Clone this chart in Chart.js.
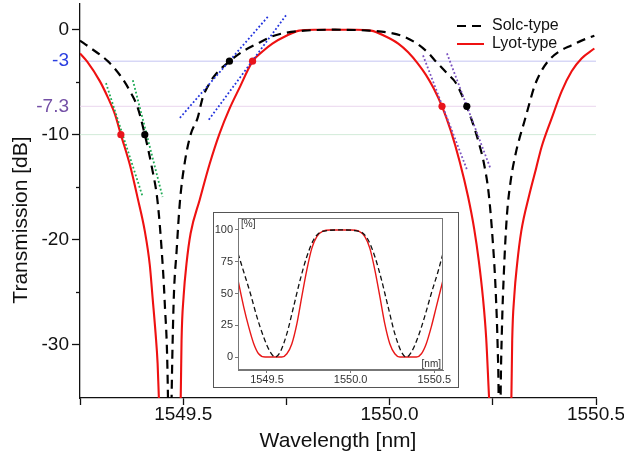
<!DOCTYPE html>
<html>
<head>
<meta charset="utf-8">
<script src="https://cdn.jsdelivr.net/npm/chart.js@4.4.0/dist/chart.umd.min.js"></script>
<style>
  body { margin: 0; background: #fff; }
  #wrap { position: relative; width: 624px; height: 455px; }
  #main { position: absolute; left: 0; top: 0; }
  #insetBox { position: absolute; left: 213px; top: 212px; width: 246px; height: 176px;
              box-sizing: border-box; border: 1px solid #555; background: #fff; }
</style>
</head>
<body>
<div id="wrap">
  <canvas id="main" width="624" height="455"></canvas>
  <div id="insetBox"><canvas id="inset" width="244" height="174"></canvas></div>
</div>
<script>
// --- main plot: transmission in dB ---
const solcX = [1549.250, 1549.274, 1549.318, 1549.347, 1549.371, 1549.390, 1549.407, 1549.424, 1549.438, 1549.448,
  1549.455, 1549.463, 1549.467, 1549.472, 1549.477, 1549.484, 1549.492, 1549.504, 1549.518, 1549.535,
  1549.547, 1549.564, 1549.581, 1549.612, 1549.644, 1549.680, 1549.714, 1549.750, 1549.793, 1549.868,
  1549.950, 1549.999, 1550.035, 1550.066, 1550.095, 1550.112, 1550.139, 1550.161, 1550.187, 1550.204,
  1550.216, 1550.228, 1550.240, 1550.250, 1550.257, 1550.262, 1550.264, 1550.266, 1550.269, 1550.272,
  1550.277, 1550.284, 1550.293, 1550.306, 1550.315, 1550.327, 1550.339, 1550.351, 1550.366, 1550.385,
  1550.410, 1550.440, 1550.465, 1550.496];
const solcY = [-1.04, -1.70, -3.02, -4.34, -5.85, -7.45, -10.0, -13.1, -16.4, -21.1,
  -25.8, -34.8, -50, -34.8, -25.8, -21.1, -16.4, -12.6, -10.0, -8.40,
  -6.51, -5.09, -4.15, -3.02, -2.08, -1.32, -0.66, -0.28, -0.09, 0,
  -0.09, -0.28, -0.66, -1.32, -2.26, -3.02, -4.15, -5.1, -7.36, -9.2,
  -10.75, -12.64, -15.6, -20.2, -24.9, -30.6, -34.8, -50, -34.8, -28.7,
  -23.0, -17.8, -14.5, -11.7, -10.3, -8.68, -6.98, -5.38, -4.05, -2.95,
  -2.1, -1.5, -1.04, -0.57];

const lyotX = [1549.250, 1549.267, 1549.298, 1549.318, 1549.335, 1549.349, 1549.371, 1549.390, 1549.407, 1549.419,
  1549.426, 1549.433, 1549.438, 1549.441, 1549.467, 1549.494, 1549.496, 1549.501, 1549.508, 1549.518,
  1549.540, 1549.564, 1549.588, 1549.612, 1549.636, 1549.668, 1549.692, 1549.716, 1549.750, 1549.781,
  1549.818, 1549.878, 1549.919, 1549.955, 1549.987, 1550.021, 1550.045, 1550.068, 1550.088, 1550.107,
  1550.127, 1550.148, 1550.170, 1550.190, 1550.205, 1550.216, 1550.226, 1550.234, 1550.241, 1550.268,
  1550.295, 1550.297, 1550.302, 1550.309, 1550.319, 1550.338, 1550.355, 1550.368, 1550.393, 1550.417,
  1550.441, 1550.465, 1550.496];
const lyotY = [-2.26, -3.02, -4.9, -6.5, -8.1, -10.0, -12.9, -16.1, -19.2, -22.4,
  -25.6, -28.9, -31.8, -35.0, -55, -35.1, -29.6, -25.4, -22.3, -19.4,
  -16.2, -12.8, -9.9, -7.55, -5.57, -3.02, -2.08, -1.32, -0.57, -0.09,
  0, 0, 0, -0.09, -0.57, -1.32, -2.15, -3.2, -4.3, -5.6,
  -7.3, -9.6, -12.6, -15.9, -19.0, -22.0, -25.5, -29.4, -35.1, -55,
  -35.1, -29.6, -25.4, -22.3, -19.2, -15.8, -13.2, -11.2, -8.4, -5.85,
  -3.96, -2.74, -1.79];

// reference levels and their colours
const levels = [-3, -7.3, -10];
const levelColors = ['#c4c4f2', '#ead6ee', '#d2ebd9'];

// tangent lines [x0, x1], [y0, y1]
const tanGreenLyotX = [1549.313, 1549.402], tanGreenLyotY = [-5.09, -15.94];
const tanGreenSolcX = [1549.378, 1549.450], tanGreenSolcY = [-4.81, -15.94];
const tanBlueSolcX = [1549.492, 1549.707], tanBlueSolcY = [-8.40, 1.32];
const tanBlueLyotX = [1549.562, 1549.750], tanBlueLyotY = [-8.58, 1.42];
const tanPurpleLyotX = [1550.081, 1550.187], tanPurpleLyotY = [-2.45, -13.3];
const tanPurpleSolcX = [1550.139, 1550.245], tanPurpleSolcY = [-2.26, -13.3];

// marked points
const dotSolcX = [1549.407, 1549.612, 1550.187], dotSolcY = [-10, -3, -7.3];
const dotLyotX = [1549.349, 1549.668, 1550.127], dotLyotY = [-10, -3, -7.3];

const yTickValues = [0, -3, -7.3, -10, -20, -30];
const yMinorTicks = [-5, -15, -25];
const xTickValues = [1549.25, 1549.5, 1549.75, 1550.0, 1550.25, 1550.5];

// --- inset: linear transmission in % ---
const inSolcX = [1549.327, 1549.361, 1549.401, 1549.440, 1549.480, 1549.520, 1549.550, 1549.579, 1549.619, 1549.659,
  1549.698, 1549.738, 1549.778, 1549.827, 1549.940, 1550.056, 1550.105, 1550.145, 1550.185, 1550.224,
  1550.264, 1550.304, 1550.333, 1550.363, 1550.403, 1550.442, 1550.482, 1550.522, 1550.552];
const inSolcY = [81.6, 67.1, 50.0, 31.6, 15.8, 3.9, 0, 3.9, 18.4, 39.5,
  60.5, 78.9, 92.1, 98.7, 100, 98.7, 92.1, 78.9, 60.5, 39.5,
  18.4, 3.9, 0, 3.9, 15.8, 31.6, 50.0, 67.1, 81.6];
const inLyotX = [1549.327, 1549.361, 1549.391, 1549.421, 1549.450, 1549.490, 1549.540, 1549.589, 1549.619, 1549.649,
  1549.679, 1549.708, 1549.738, 1549.768, 1549.798, 1549.837, 1549.877, 1549.940, 1550.006, 1550.046,
  1550.085, 1550.115, 1550.145, 1550.175, 1550.204, 1550.234, 1550.264, 1550.294, 1550.343, 1550.393,
  1550.423, 1550.452, 1550.482, 1550.512, 1550.552];
const inLyotY = [60.5, 39.5, 23.7, 10.5, 2.6, 0, 0, 0, 2.6, 10.5,
  26.3, 47.4, 68.4, 85.5, 94.7, 99.2, 100, 100, 100, 99.2,
  94.7, 85.5, 68.4, 47.4, 26.3, 10.5, 2.6, 0, 0, 0,
  2.6, 10.5, 23.7, 39.5, 60.5];
const inYTicks = [0, 25, 50, 75, 100];
const inXTicks = [1549.5, 1550.0, 1550.5];

const FONT = '"Liberation Sans", Arial, Helvetica, sans-serif';
const X_MIN = 1549.25, X_MAX = 1550.5;

function pts(xs, ys) { return xs.map((x, i) => ({ x: x, y: ys[i] })); }

function lineSet(xs, ys, color, width, dash, order) {
  return { data: pts(xs, ys), showLine: true, borderColor: color, borderWidth: width,
    borderDash: dash, pointRadius: 0, cubicInterpolationMode: 'monotone', order: order };
}

const datasets = [];
datasets.push({ data: pts(dotSolcX, dotSolcY), pointRadius: 3.6, pointBackgroundColor: '#000',
  pointBorderWidth: 0, showLine: false, order: 0 });
datasets.push({ data: pts(dotLyotX, dotLyotY), pointRadius: 3.6, pointBackgroundColor: '#e8141c',
  pointBorderWidth: 0, showLine: false, order: 0 });
[[tanGreenLyotX, tanGreenLyotY, '#1faa55'], [tanGreenSolcX, tanGreenSolcY, '#1faa55'],
 [tanBlueSolcX, tanBlueSolcY, '#2233dd'], [tanBlueLyotX, tanBlueLyotY, '#2233dd'],
 [tanPurpleLyotX, tanPurpleLyotY, '#7a52c0'], [tanPurpleSolcX, tanPurpleSolcY, '#7a52c0']]
  .forEach(t => datasets.push(lineSet(t[0], t[1], t[2], 1.8, [1.8, 2.2], 1)));
datasets.push(lineSet(solcX, solcY, '#000', 2.2, [9, 6], 2));
datasets.push(lineSet(lyotX, lyotY, '#ee1111', 2.1, [], 3));
levels.forEach((v, i) => datasets.push(lineSet([X_MIN, X_MAX], [v, v], levelColors[i], 1, [], 4)));

const yLabelColor = v => v === -3 ? '#2b3fe0' : (v === -7.3 ? '#7450a6' : '#111');

const decor = {
  id: 'decor',
  afterDraw(chart) {
    const { ctx } = chart;
    const x = chart.scales.x, y = chart.scales.y;
    ctx.save();
    ctx.strokeStyle = '#111';
    ctx.lineWidth = 1.3;
    yMinorTicks.forEach(v => {
      const py = Math.round(y.getPixelForValue(v)) + 0.5;
      ctx.beginPath(); ctx.moveTo(x.left - 4, py); ctx.lineTo(x.left, py); ctx.stroke();
    });
    ctx.fillStyle = '#111';
    ctx.font = '21px ' + FONT;
    ctx.textAlign = 'center';
    ctx.textBaseline = 'middle';
    ctx.fillText('Wavelength [nm]', (x.left + x.right) / 2, 441);
    ctx.save();
    ctx.translate(21, 220);
    ctx.rotate(-Math.PI / 2);
    ctx.fillText('Transmission [dB]', 0, 0);
    ctx.restore();
    // legend
    ctx.font = '16px ' + FONT;
    ctx.textAlign = 'left';
    ctx.lineWidth = 2.2;
    ctx.strokeStyle = '#000';
    ctx.setLineDash([9, 6]);
    ctx.beginPath(); ctx.moveTo(457, 26); ctx.lineTo(484, 26); ctx.stroke();
    ctx.setLineDash([]);
    ctx.strokeStyle = '#ee1111';
    ctx.lineWidth = 2;
    ctx.beginPath(); ctx.moveTo(457, 44); ctx.lineTo(484, 44); ctx.stroke();
    ctx.fillText('Solc-type', 492, 26);
    ctx.fillText('Lyot-type', 492, 44);
    ctx.restore();
  }
};

new Chart(document.getElementById('main'), {
  type: 'scatter',
  data: { datasets: datasets },
  options: {
    responsive: false, animation: false, events: [],
    layout: { padding: { left: 0, right: 28, top: 0, bottom: 0 } },
    plugins: { legend: { display: false }, tooltip: { enabled: false } },
    scales: {
      x: {
        type: 'linear', min: X_MIN, max: X_MAX,
        afterBuildTicks: s => { s.ticks = xTickValues.map(v => ({ value: v })); },
        afterFit: s => { s.height = 57; s.paddingLeft = 0; s.paddingRight = 0; },
        ticks: { font: { size: 19, family: FONT }, color: '#111', padding: -2, maxRotation: 0,
          callback: v => (Math.abs(v * 2 - Math.round(v * 2)) < 1e-6 ? v.toFixed(1) : '') },
        grid: { drawOnChartArea: false, drawTicks: true, tickLength: 7, tickColor: '#111', tickWidth: 1.3 },
        border: { display: true, color: '#111', width: 1.3 }
      },
      y: {
        type: 'linear', min: -35.1, max: 2.45,
        afterBuildTicks: s => { s.ticks = yTickValues.map(v => ({ value: v })); },
        afterFit: s => { s.width = 80; s.paddingTop = 0; s.paddingBottom = 0; },
        ticks: { font: { size: 19, family: FONT }, padding: 3,
          color: c => yLabelColor(c.tick.value),
          callback: v => String(v) },
        grid: { drawOnChartArea: false, drawTicks: true, tickLength: 8, tickWidth: 1.3,
          tickColor: c => (c.tick && (c.tick.value === -3 || c.tick.value === -7.3)) ? 'rgba(0,0,0,0)' : '#111' },
        border: { display: true, color: '#111', width: 1.3 }
      }
    }
  },
  plugins: [decor]
});

// --- inset chart ---
const insetDecor = {
  id: 'insetDecor',
  afterDraw(chart) {
    const { ctx, chartArea: a } = chart;
    ctx.save();
    ctx.strokeStyle = '#777';
    ctx.lineWidth = 1;
    ctx.strokeRect(a.left + 0.5, a.top + 0.5, a.right - a.left - 1, a.bottom - a.top - 1);
    ctx.fillStyle = '#333';
    ctx.font = '10px ' + FONT;
    ctx.textBaseline = 'top';
    ctx.textAlign = 'left';
    ctx.fillText('[%]', a.left + 3, a.top + 1);
    ctx.textAlign = 'right';
    ctx.textBaseline = 'bottom';
    ctx.fillText('[nm]', a.right - 2, a.bottom - 1);
    ctx.restore();
  }
};

new Chart(document.getElementById('inset'), {
  type: 'scatter',
  data: {
    datasets: [
      lineSet(inSolcX, inSolcY, '#111', 1.3, [5, 3], 0),
      lineSet(inLyotX, inLyotY, '#e81818', 1.4, [], 1)
    ]
  },
  options: {
    responsive: false, animation: false, events: [],
    layout: { padding: { left: 0, right: 15, top: 5, bottom: 0 } },
    plugins: { legend: { display: false }, tooltip: { enabled: false } },
    scales: {
      x: {
        type: 'linear', min: 1549.327, max: 1550.552,
        afterBuildTicks: s => { s.ticks = inXTicks.map(v => ({ value: v })); },
        afterFit: s => { s.height = 17; s.paddingLeft = 0; s.paddingRight = 0; },
        ticks: { font: { size: 11, family: FONT }, color: '#333', padding: 0, maxRotation: 0,
          callback: v => v.toFixed(1) },
        grid: { drawOnChartArea: false, tickLength: 3, tickColor: '#777' },
        border: { display: true, color: '#777', width: 1 }
      },
      y: {
        type: 'linear', min: -10.2, max: 109.4,
        afterBuildTicks: s => { s.ticks = inYTicks.map(v => ({ value: v })); },
        afterFit: s => { s.width = 24; s.paddingTop = 0; s.paddingBottom = 0; },
        ticks: { font: { size: 11, family: FONT }, color: '#333', padding: 2 },
        grid: { drawOnChartArea: false, tickLength: 3, tickColor: '#777' },
        border: { display: true, color: '#777', width: 1 }
      }
    }
  },
  plugins: [insetDecor]
});
</script>
</body>
</html>
